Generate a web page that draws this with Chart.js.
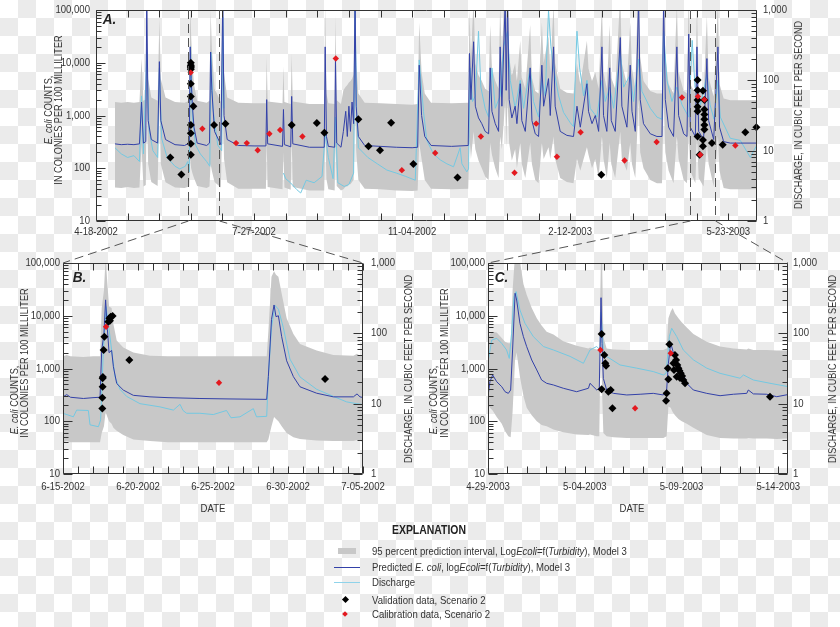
<!DOCTYPE html>
<html>
<head>
<meta charset="utf-8">
<script src="https://cdn.jsdelivr.net/npm/chart.js@4.4.1/dist/chart.umd.min.js"></script>
<style>
  body {
    margin: 0;
    width: 840px;
    height: 627px;
    overflow: hidden;
    position: relative;
    background: repeating-conic-gradient(#ebebeb 0 25%, #fff 0 50%) 0 0 / 36px 36px;
    font-family: 'Liberation Sans', Arial, sans-serif;
    color: #333;
  }
  canvas { position: absolute; }
  .vt, .ht, .lt, .pl { position: absolute; white-space: nowrap; font-size: 11px; }
  .vt { font-size: 10.5px; transform: translate(-50%, -50%) rotate(-90deg) scaleX(0.87); }
  .ht { transform: translate(-50%, -50%) scaleX(0.87); }
  .lt { transform: translateY(-50%) scaleX(0.87); transform-origin: left center; }
  .pl { font-size: 15px; font-weight: bold; font-style: italic; color: #222; transform: scaleX(0.9); }
  .sw { position: absolute; }
</style>
</head>
<body>
<canvas id="chartA" width="840" height="250" style="left:0;top:0"></canvas>
<canvas id="chartB" width="420" height="270" style="left:0;top:250px"></canvas>
<canvas id="chartC" width="420" height="270" style="left:420px;top:250px"></canvas>
<canvas id="overlay" width="840" height="627" style="left:0;top:0"></canvas>

<div class="pl" style="left:102px;top:10px">A.</div>
<div class="pl" style="left:72px;top:268px">B.</div>
<div class="pl" style="left:494px;top:268px">C.</div>

<div class="vt" style="left:48px;top:110px"><i>E. coli</i> COUNTS,</div>
<div class="vt" style="left:58px;top:110px">IN COLONIES PER 100 MILLILITER</div>
<div class="vt" style="left:798px;top:115px">DISCHARGE, IN CUBIC FEET PER SECOND</div>

<div class="vt" style="left:14px;top:400px"><i>E. coli</i> COUNTS,</div>
<div class="vt" style="left:24px;top:363px">IN COLONIES PER 100 MILLILITER</div>
<div class="vt" style="left:408px;top:369px">DISCHARGE, IN CUBIC FEET PER SECOND</div>
<div class="ht" style="left:213px;top:508px">DATE</div>

<div class="vt" style="left:433px;top:400px"><i>E. coli</i> COUNTS,</div>
<div class="vt" style="left:444px;top:363px">IN COLONIES PER 100 MILLILITER</div>
<div class="vt" style="left:832px;top:369px">DISCHARGE, IN CUBIC FEET PER SECOND</div>
<div class="ht" style="left:632px;top:508px">DATE</div>

<!-- explanation -->
<div class="ht" style="left:429px;top:530px;font-size:12px;font-weight:bold;color:#222">EXPLANATION</div>
<div class="sw" style="left:338px;top:548px;width:18px;height:6px;background:#c8c8c8"></div>
<div class="sw" style="left:334px;top:567px;width:26px;height:1px;background:#3341a8"></div>
<div class="sw" style="left:334px;top:582px;width:26px;height:1px;background:#8fd3ea"></div>
<div class="sw" style="left:343px;top:597px;width:5px;height:5px;background:#000;transform:rotate(45deg)"></div>
<div class="sw" style="left:343px;top:612px;width:4px;height:4px;background:#e3191f;transform:rotate(45deg)"></div>
<div class="lt" style="left:372px;top:551px">95 percent prediction interval, Log<i>Ecoli</i>=f(<i>Turbidity</i>), Model 3</div>
<div class="lt" style="left:372px;top:567px">Predicted <i>E. coli</i>, log<i>Ecoli</i>=f(<i>Turbidity</i>), Model 3</div>
<div class="lt" style="left:372px;top:582px">Discharge</div>
<div class="lt" style="left:372px;top:600px">Validation data, Scenario 2</div>
<div class="lt" style="left:372px;top:614px">Calibration data, Scenario 2</div>

<script>
// ---- Panel A: days after 4-18-2002 ----
const aTickDays = [0, 100, 200, 300, 400];
const aTickLabels = ['4-18-2002', '7-27-2002', '11-04-2002', '2-12-2003', '5-23-2003'];

const aDays = [
  12, 16, 20, 24, 27.5, 28.8, 30, 31.5, 32.1, 33, 35, 39, 40.1, 41, 44, 50, 56, 59, 59.6, 60.2,
  61, 62, 64, 70, 71.8, 72.5, 73.3, 75, 79,
  80.2, 81, 83, 90, 100, 107.5, 108, 108.6, 118, 118.6, 119.2, 123.2, 123.8, 124.5, 135,
  144.4, 145, 145.8, 147, 151, 151.5, 152.3, 155, 156.5, 158, 159, 160, 161, 162, 163,
  163.9, 164.6, 166, 170, 180, 190, 200, 203.5, 204.5, 206, 208, 212, 225, 235.5,
  236.3, 237.2, 238.9, 240, 242, 244.1, 246.2, 248.4, 249.4, 250.5,
  252.6, 254.7, 255.7, 256.8, 258.9, 259.5, 260.4, 261.4, 263.1, 265.2,
  266.3, 268.4, 269.4, 271.6, 274.7, 275.8, 277.9, 280, 282.1, 283.2,
  286.3, 287.4, 289.5, 290.5, 293.7, 297.9, 302.1, 304.3, 306.4, 310.6,
  311.6, 313.8, 315.9, 318, 320.1, 321.1, 323.2, 325, 326, 328.5,
  331.7, 332.7, 335.9, 338, 339.1, 341.2, 343.3, 344.3, 346.4, 350.7,
  354.9, 358.1, 359.1, 360.2, 362.3, 365.4, 367.5, 368.6, 371.8, 373.9,
  375, 376, 379.2, 380.2, 381.3, 384.4, 386.5, 387.6, 390.8, 393.5,
  394.5, 397.1, 401.3, 407.6, 418.2
];
const aPred = [
  290, 280, 285, 280, 290, 1800, 300, 320, 150000, 800, 350, 300, 10500, 800, 350, 280, 270, 300, 20000, 5000,
  1500, 600, 300, 270, 300, 16000, 3000, 500, 280,
  150000, 1000, 350, 270, 265, 265, 2000, 290, 260, 1300, 280, 255, 2300, 290, 250,
  250, 20000, 400, 260, 250, 12000, 300, 250, 500, 1200, 400, 1500, 500, 1800, 700,
  150000, 1500, 400, 270, 260, 250, 245, 250, 9000, 1000, 400, 270, 260, 270,
  15000, 2000, 25000, 1500, 900, 700, 500, 450, 8000, 1200,
  700, 500, 20000, 1500, 150000, 3000, 150000, 2000, 900, 1500,
  700, 4000, 800, 500, 8000, 800, 450, 400, 9000, 1500,
  5000, 1000, 20000, 1500, 500, 420, 400, 1500, 600, 4000,
  1200, 700, 1000, 500, 20000, 1000, 500, 8000, 800, 500,
  30000, 1500, 600, 9000, 1200, 500, 150000, 2000, 700, 450,
  400, 400, 150000, 2000, 600, 400, 20000, 1000, 450, 400,
  35000, 600, 400, 20000, 500, 350, 12000, 800, 350, 20000,
  600, 320, 300, 300, 300
];
const aUpper = [
  1800, 1750, 1800, 1750, 1800, 12000, 1900, 2000, 900000, 5000, 2200, 1900, 70000, 5000, 2200, 1800, 1750, 1900, 130000, 32000,
  9500, 3900, 1900, 1750, 1900, 100000, 19000, 3200, 1800,
  900000, 6500, 2200, 1750, 1700, 1700, 13000, 1850, 1700, 8500, 1800, 1650, 15000, 1850, 1650,
  1650, 130000, 2600, 1700, 1650, 78000, 1950, 1650, 3000, 3500, 3800, 4200, 4500, 5000, 6000,
  900000, 9000, 2600, 1750, 1700, 1650, 1600, 1650, 58000, 6500, 2600, 1750, 1700, 1750,
  98000, 13000, 160000, 9800, 5800, 4500, 3200, 2900, 52000, 7800,
  4500, 3200, 130000, 9800, 900000, 19000, 900000, 13000, 5800, 9800,
  4500, 26000, 5200, 3200, 52000, 5200, 2900, 2600, 58000, 9800,
  32000, 6500, 130000, 9800, 3200, 2700, 2600, 9800, 3900, 26000,
  7800, 4500, 6500, 3200, 130000, 6500, 3200, 52000, 5200, 3200,
  200000, 9800, 3900, 58000, 7800, 3200, 900000, 13000, 4500, 2900,
  2600, 2600, 900000, 13000, 3900, 2600, 130000, 6500, 2900, 2600,
  230000, 3900, 2600, 130000, 3200, 2300, 78000, 5200, 2300, 130000,
  3900, 2100, 1950, 1950, 1950
];
const aLower = [
  43, 42, 44, 42, 43, 280, 45, 48, 2000, 120, 55, 46, 1600, 120, 54, 43, 42, 45, 150, 100,
  80, 65, 46, 42, 45, 120, 90, 55, 43,
  2000, 150, 54, 41, 41, 41, 300, 44, 40, 200, 43, 39, 350, 44, 38,
  38, 500, 62, 40, 38, 300, 46, 38, 40, 45, 45, 50, 50, 55, 60,
  2000, 220, 60, 41, 40, 38, 37, 38, 300, 150, 60, 41, 40, 41,
  400, 150, 500, 230, 140, 100, 70, 60, 300, 180,
  100, 65, 400, 230, 2000, 250, 2000, 300, 140, 230,
  100, 300, 120, 65, 300, 120, 60, 52, 300, 150,
  250, 150, 400, 150, 65, 55, 52, 150, 90, 250,
  180, 100, 150, 65, 400, 150, 65, 300, 120, 65,
  500, 150, 90, 300, 120, 65, 2000, 200, 100, 60,
  52, 52, 2000, 200, 90, 52, 400, 150, 60, 52,
  500, 90, 52, 400, 65, 45, 300, 120, 45, 400,
  90, 42, 40, 40, 40
];
const aFlowDays = [
  12, 16, 20, 24, 27.5, 28.8, 30, 32.1, 33.5, 36, 39, 40.1, 41.5, 45, 50, 53, 56.5, 58, 59, 59.8,
  61, 63, 66, 70, 72, 72.7, 74, 77, 79.5, 80.2, 81, 82,
  118.6, 120, 123, 127, 129.5, 133, 138, 143, 145, 147, 150, 151.5, 153, 157, 160, 163, 163.9, 165,
  166, 172, 178, 184, 190, 196, 202, 204.5, 207.2, 209.3, 213.5, 217.8, 222, 226.2, 230.4, 231.5, 234.6, 235.7,
  236.7, 238.2, 240, 242, 243.5, 246.2, 248.4, 250.5, 252.6, 255.7, 257.8, 260.4, 262.1, 265.2, 268.4, 270.5,
  274.7, 276.8, 280, 282.1, 284.2, 286.3, 287.8, 289.5, 292.7, 295.8, 300, 302.1, 304.3, 306, 308.5, 310.6,
  312.7, 316.9, 320.1, 322.2, 325, 327.5, 331.7, 333.8, 338, 340.1, 343.3, 345.4, 350.7, 354.9, 358.1, 359.1,
  361.2, 364.4, 367.5, 370.7, 375, 377.2, 379, 381.2, 382.5, 386.5, 388.5, 391, 393.5, 395, 401.3, 407.6,
  414, 416.1, 418.2
];
const aFlow = [
  11, 9, 8, 8.5, 7, 60, 9, 250, 20, 10, 8, 150, 15, 8, 6, 5.5, 6, 7, 5, 300,
  30, 12, 9, 7, 6, 250, 40, 12, 10, 800, 40, null,
  4.8, 4, 3.5, 2.8, 2.5, 3.8, 3.5, 4.3, 17, 8, 4, 30, 3.5, 3.1, 3.3, 4.8, 1000, 30,
  11, 8, 6.5, 5.3, 4.8, 4.3, 3.8, 195, 36, 14, 9, 7.4, 6.5, 5.9, 11, 6.5, 5, 5.5,
  150, 50, 60, 500, 80, 40, 30, 150, 40, 60, 300, 500, 100, 40, 100, 40,
  150, 50, 30, 100, 60, 1000, 300, 150, 60, 35, 25, 22, 500, 150, 60, 100,
  40, 30, 100, 50, 80, 40, 250, 80, 120, 50, 200, 70, 40, 30, 28, 500,
  100, 50, 80, 45, 30, 370, 80, 60, 45, 120, 45, 28, 100, 30, 15, 14,
  8, 10, 12
];
const aValDays = [47, 54, 60, 60, 60, 60, 60, 60, 60, 60, 60, 60, 60, 61.6, 74.7, 81.9, 123.8, 139.7, 144.5, 166,
  172.4, 179.7, 186.7, 200.8, 228.7, 319.7, 380.6, 380.6, 380.6, 380.6, 380.6, 380.6, 381.9, 384,
  384.9, 384.9, 384.9, 384.9, 384.9, 384.9, 384, 384, 389.7, 396.5, 410.8, 417.8];
const aVal = [160, 76, 10000, 9000, 8500, 8000, 7500, 4000, 2300, 660, 460, 290, 180, 1500, 660, 700, 660, 720, 470, 850,
  260, 220, 730, 120, 67, 75, 4700, 3000, 1970, 1470, 1200, 400, 180, 2950,
  1970, 1300, 1050, 850, 660, 540, 344, 260, 300, 280, 480, 600];
const aCalDays = [59.9, 67.3, 88.6, 95.4, 102.3, 109.7, 116.5, 130.6, 151.7, 193.5, 214.6, 243.5,
  264.8, 278.5, 291.6, 306.6, 334.4, 354.7, 370.7, 380.8, 382.3, 384.9, 404.5];
const aCal = [6500, 560, 300, 300, 220, 450, 530, 400, 12000, 92, 195, 400,
  82, 700, 165, 480, 140, 315, 2200, 2300, 180, 2000, 270];

// ---- Panel B: days after 6-15-2002 ----
const bRange = [58, 78];
const bTickDays = [0, 5, 10, 15, 20];
const bTickLabels = ['6-15-2002', '6-20-2002', '6-25-2002', '6-30-2002', '7-05-2002'];
const bDays = [0, 0.25, 0.5, 1.36, 2, 2.47, 2.58, 2.73, 2.84, 2.96, 3.07, 3.24, 3.36, 3.58, 4.02, 4.69, 5.8, 7, 9.13, 11,
  13.58, 13.69, 13.9, 14.07, 14.2, 14.36, 14.58, 14.91, 15.36, 15.8, 16.91, 18.02, 19.36, 19.6, 19.8, 20.02];
const bPred = [290, 320, 285, 270, 280, 285, 2200, 4600, 20000, 5500, 2000, 2200, 1080, 520, 390, 310, 290, 280, 270, 265,
  260, 700, 8500, 16000, 9600, 10000, 4000, 1400, 700, 450, 340, 290, 290, 330, 290, 280];
const bUpper = [1700, 1800, 1700, 1650, 1700, 1700, 14000, 30000, 130000, 40000, 15000, 14000, 7000, 3400, 2500, 2000, 1750, 1700, 1700, 1700,
  1700, 5000, 55000, 70000, 60000, 55000, 26000, 9000, 4500, 2900, 2200, 1800, 1750, 1900, 1750, 1700];
const bLower = [40, 42, 40, 40, 40, 40, 60, 80, 150, 120, 100, 90, 75, 66, 55, 45, 42, 40, 40, 40,
  40, 45, 80, 120, 110, 100, 80, 60, 50, 46, 43, 42, 42, 44, 42, 41];
const bFlowDays = [0, 0.69, 0.91, 1.69, 1.8, 2.36, 2.51, 2.69, 2.87, 3.02, 3.24, 3.47, 3.8, 4.24, 5.13, 6.47, 7.36, 7.8, 8, 8.24,
  9.13, 10.02, 10.9, 11.2, 11.8, 12.69, 12.9, 13.58, 13.69, 13.9, 14.13, 14.36, 14.69, 15.13, 15.8, 16.91, 18.02, 18.91, 19.58, 20.02];
const bFlow = [7.3, 6.5, 8.1, 8, 5, 4.7, 5.9, 58, 240, 140, 58, 24, 16, 12.7, 10, 9, 8.1, 9.8, 8, 7.3,
  7.3, 7, 8, 6.3, 6.5, 8.5, 6.5, 6.6, 24, 120, 250, 220, 120, 43, 24, 16, 12.7, 10.6, 10, 9.7];
const bValDays = [2.62, 2.62, 2.64, 2.64, 2.66, 2.71, 2.76, 3.02, 3.09, 3.18, 3.13, 3.31, 4.42, 17.47];
const bVal = [175, 279, 452, 652, 690, 2244, 4000, 7700, 8950, 9600, 8070, 9890, 1450, 632];
const bCalDays = [2.87, 10.4];
const bCal = [6200, 538];

// ---- Panel C: days after 4-29-2003 ----
const cRange = [376, 391.5];
const cTickDays = [0, 5, 10, 15];
const cTickLabels = ['4-29-2003', '5-04-2003', '5-09-2003', '5-14-2003'];
const cDays = [0.02, 0.1, 0.24, 0.45, 0.71, 0.88, 1.05, 1.17, 1.27, 1.4, 1.48, 1.65, 1.83, 2, 2.26, 2.52, 2.77, 3.03, 3.38, 3.89,
  4.58, 5.19, 5.27, 5.62, 5.75, 5.84, 5.89, 5.96, 6.13, 6.48, 7.17, 7.86, 8.54, 9.06, 9.23, 9.32, 9.44, 9.54, 9.66, 9.84,
  10.01, 10.27, 10.61, 11.3, 11.99, 12.68, 13.37, 13.45, 13.71, 14.4, 14.92, 15.49];
const cPred = [338, 562, 753, 562, 452, 363, 338, 391, 2244, 26700, 19900, 7190, 4010, 2590, 1450, 938, 605, 524, 487, 422,
  363, 422, 524, 391, 422, 22000, 3000, 650, 391, 338, 315, 325, 338, 315, 391, 1256, 3000, 2244, 1450, 1256,
  938, 524, 391, 338, 305, 325, 338, 391, 330, 325, 292, 320];
const cUpper = [4000, 4500, 5000, 4800, 3800, 3200, 3000, 3000, 30000, 150000, 150000, 110000, 40000, 25000, 14000, 9000, 6500, 5000, 4400, 3300,
  2700, 2400, 2500, 2300, 2300, 150000, 150000, 4000, 2400, 2300, 2250, 2250, 2250, 2250, 2400, 9000, 12000, 14000, 11000, 9000,
  7500, 6000, 4500, 3200, 2600, 2400, 2300, 2400, 2250, 2250, 2200, 2200];
const cLower = [200, 180, 160, 120, 90, 65, 52, 50, 150, 1500, 2000, 700, 300, 180, 130, 100, 85, 80, 70, 62,
  56, 55, 56, 52, 52, 15000, 400, 60, 52, 50, 48, 48, 48, 48, 52, 190, 180, 150, 130, 110,
  100, 90, 75, 55, 48, 47, 47, 48, 47, 47, 46, 47];
const cFlowDays = [0.02, 0.19, 0.45, 0.71, 0.96, 1.1, 1.22, 1.34, 1.45, 1.65, 1.91, 2.34, 2.86, 3.38, 4.24, 4.93, 5.27, 5.62, 5.79, 5.84,
  5.96, 6.13, 6.82, 7.68, 8.54, 9.06, 9.2, 9.37, 9.49, 9.75, 10.09, 10.61, 11.3, 11.99, 13.02, 13.2, 13.71, 14.57, 15.49];
const cFlow = [42, 80, 85, 72, 58, 44, 100, 333, 392, 215, 139, 90, 65, 58, 47, 37.5, 58, 65, 58, 200,
  58, 47, 35.5, 32, 28.6, 25.6, 27, 90, 118, 90, 58, 42, 32, 27, 23, 25.6, 21.7, 19.5, 17.5];
const cValDays = [5.87, 5.87, 6.01, 6.06, 6.1, 6.22, 6.34, 6.43, 9.2, 9.23, 9.29, 9.32, 9.37, 9.58, 9.61,
  9.66, 9.72, 9.78, 9.84, 9.89, 9.96, 10.03, 10.09, 10.18, 9.75, 9.92, 14.57];
const cVal = [4510, 403, 1800, 1256, 1130, 363, 391, 176, 245, 338, 1010, 624, 2870, 1256, 938,
  1800, 1450, 1164, 1010, 909, 811, 721, 605, 524, 700, 660, 292];
const cCalDays = [5.81, 9.44, 7.6];
const cCal = [2244, 1940, 176];

const eTickValues = [10, 100, 1000, 10000, 100000];
const eTickLabels = ['10', '100', '1,000', '10,000', '100,000'];
const qTickValues = [1, 10, 100, 1000];
const qTickLabels = ['1', '10', '100', '1,000'];

const BAND = '#c8c8c8';
const BLUE = '#3341a8';
const CYAN = '#74c9e2';
const RED = '#e3191f';
const SQUEEZE = 0.87; // the original uses a condensed face

const pts = (xs, ys) => xs.map((x, i) => ({ x: x, y: ys[i] }));

// frame, inward ticks on all four sides and condensed tick labels
const frameTicks = {
  id: 'frameTicks',
  afterDraw(chart) {
    const o = chart.options.plugins.frameTicks;
    const { ctx, chartArea: a, scales } = chart;
    const L = Math.round(a.left) + 0.5, R = Math.round(a.right) - 0.5;
    const T = Math.round(a.top) + 0.5, B = Math.round(a.bottom) - 0.5;
    ctx.save();
    ctx.strokeStyle = '#333';
    ctx.lineWidth = 1;
    ctx.beginPath();
    ctx.rect(L, T, R - L, B - T);
    for (let d = o.xFrom; d <= o.xTo + 1e-6; d += o.xStep) {
      const x = Math.round(scales.x.getPixelForValue(d)) + 0.5;
      ctx.moveTo(x, B); ctx.lineTo(x, B - 7);
      ctx.moveTo(x, T); ctx.lineTo(x, T + 7);
    }
    [['y', L, 1], ['y2', R, -1]].forEach(([id, x0, dir]) => {
      const s = scales[id];
      const e0 = Math.round(Math.log10(s.min)), e1 = Math.round(Math.log10(s.max));
      for (let e = e0; e <= e1; e++) {
        for (let k = 1; k <= 9; k++) {
          const v = k * Math.pow(10, e);
          if (v > s.max * 1.001) break;
          const y = Math.round(s.getPixelForValue(v)) + 0.5;
          const len = k === 1 ? 9 : 5;
          ctx.moveTo(x0, y); ctx.lineTo(x0 + dir * len, y);
        }
      }
    });
    ctx.stroke();

    ctx.fillStyle = '#333';
    ctx.font = "11px 'Liberation Sans', Arial, sans-serif";
    ctx.textBaseline = 'middle';
    const label = (s, x, y, align) => {
      ctx.save();
      ctx.translate(x, y);
      ctx.scale(SQUEEZE, 1);
      ctx.textAlign = align;
      ctx.fillText(s, 0, 0);
      ctx.restore();
    };
    o.tickDays.forEach((d, i) => label(o.tickLabels[i], scales.x.getPixelForValue(d), a.bottom + o.xGap, 'center'));
    eTickValues.forEach((v, i) => label(eTickLabels[i], a.left - o.leftPad, scales.y.getPixelForValue(v), 'right'));
    qTickValues.forEach((v, i) => label(qTickLabels[i], a.right + o.rightPad, scales.y2.getPixelForValue(v), 'left'));
    ctx.restore();
  }
};

function buildChart(id, c) {
  const hidden = { display: false, drawTicks: false };
  return new Chart(document.getElementById(id), {
    type: 'line',
    data: {
      datasets: [
        { data: pts(c.days, c.upper), fill: '+1', backgroundColor: BAND, borderColor: 'rgba(0,0,0,0)', borderWidth: 0, pointRadius: 0, order: 6 },
        { data: pts(c.days, c.lower), fill: false, borderColor: 'rgba(0,0,0,0)', borderWidth: 0, pointRadius: 0, order: 6 },
        { data: pts(c.flowDays, c.flow), yAxisID: 'y2', borderColor: CYAN, borderWidth: 1, pointRadius: 0, fill: false, order: 4 },
        { data: pts(c.days, c.pred), borderColor: BLUE, borderWidth: 1, pointRadius: 0, fill: false, order: 3 },
        { data: pts(c.valDays, c.val), showLine: false, pointStyle: 'rectRot', pointRadius: 4, pointBackgroundColor: '#000', pointBorderWidth: 0, order: 2, clip: false },
        { data: pts(c.calDays, c.cal), showLine: false, pointStyle: 'rectRot', pointRadius: 3.2, pointBackgroundColor: RED, pointBorderWidth: 0, order: 1, clip: false }
      ]
    },
    options: {
      responsive: false,
      animation: false,
      devicePixelRatio: 1,
      events: [],
      spanGaps: false,
      layout: { padding: { top: c.top, left: 0, right: 0, bottom: 0 } },
      plugins: {
        legend: { display: false },
        tooltip: { enabled: false },
        frameTicks: {
          xFrom: c.xMin, xTo: c.xMax, xStep: c.xStep, tickDays: c.tickDays, tickLabels: c.tickLabels,
          xGap: c.xGap, leftPad: c.leftPad, rightPad: c.rightPad
        }
      },
      scales: {
        x: {
          type: 'linear', min: c.xMin, max: c.xMax,
          grid: hidden, border: { display: false }, ticks: { display: false },
          afterFit: s => { s.height = c.xHeight; }
        },
        y: {
          type: 'logarithmic', position: 'left', min: 10, max: 100000,
          grid: hidden, border: { display: false }, ticks: { display: false },
          afterFit: s => { s.width = c.leftW; }
        },
        y2: {
          type: 'logarithmic', position: 'right', min: 1, max: 1000,
          grid: hidden, border: { display: false }, ticks: { display: false },
          afterFit: s => { s.width = c.rightW; }
        }
      }
    },
    plugins: [frameTicks]
  });
}

const chartA = buildChart('chartA', {
  days: aDays, pred: aPred, upper: aUpper, lower: aLower, flowDays: aFlowDays, flow: aFlow,
  valDays: aValDays, val: aVal, calDays: aCalDays, cal: aCal,
  tickDays: aTickDays, tickLabels: aTickLabels, xMin: 0, xMax: 418.2, xStep: 20,
  top: 10, xHeight: 29, leftW: 96, rightW: 83, leftPad: 6, rightPad: 6, xGap: 11
});
const chartB = buildChart('chartB', {
  days: bDays, pred: bPred, upper: bUpper, lower: bLower, flowDays: bFlowDays, flow: bFlow,
  valDays: bValDays, val: bVal, calDays: bCalDays, cal: bCal,
  tickDays: bTickDays, tickLabels: bTickLabels, xMin: 0, xMax: 20, xStep: 1,
  top: 13, xHeight: 46, leftW: 63, rightW: 57, leftPad: 3, rightPad: 8, xGap: 13
});
const chartC = buildChart('chartC', {
  days: cDays, pred: cPred, upper: cUpper, lower: cLower, flowDays: cFlowDays, flow: cFlow,
  valDays: cValDays, val: cVal, calDays: cCalDays, cal: cCal,
  tickDays: cTickDays, tickLabels: cTickLabels, xMin: 0, xMax: 15.5, xStep: 1,
  top: 13, xHeight: 46, leftW: 68, rightW: 52, leftPad: 3, rightPad: 5, xGap: 13
});

// dashed zoom guides from panel A down to B and C
const ov = document.getElementById('overlay').getContext('2d');
ov.strokeStyle = '#555';
ov.lineWidth = 1;
ov.setLineDash([9, 5]);
function zoomLines(range, target, offX, offY) {
  const sx = chartA.scales.x, a = chartA.chartArea, t = target.chartArea;
  const x0 = Math.round(sx.getPixelForValue(range[0])) + 0.5;
  const x1 = Math.round(sx.getPixelForValue(range[1])) + 0.5;
  ov.beginPath();
  ov.moveTo(x0, a.top); ov.lineTo(x0, a.bottom); ov.lineTo(offX + t.left, offY + t.top);
  ov.moveTo(x1, a.top); ov.lineTo(x1, a.bottom); ov.lineTo(offX + t.right, offY + t.top);
  ov.stroke();
}
zoomLines(bRange, chartB, 0, 250);
zoomLines(cRange, chartC, 420, 250);
</script>
</body>
</html>
